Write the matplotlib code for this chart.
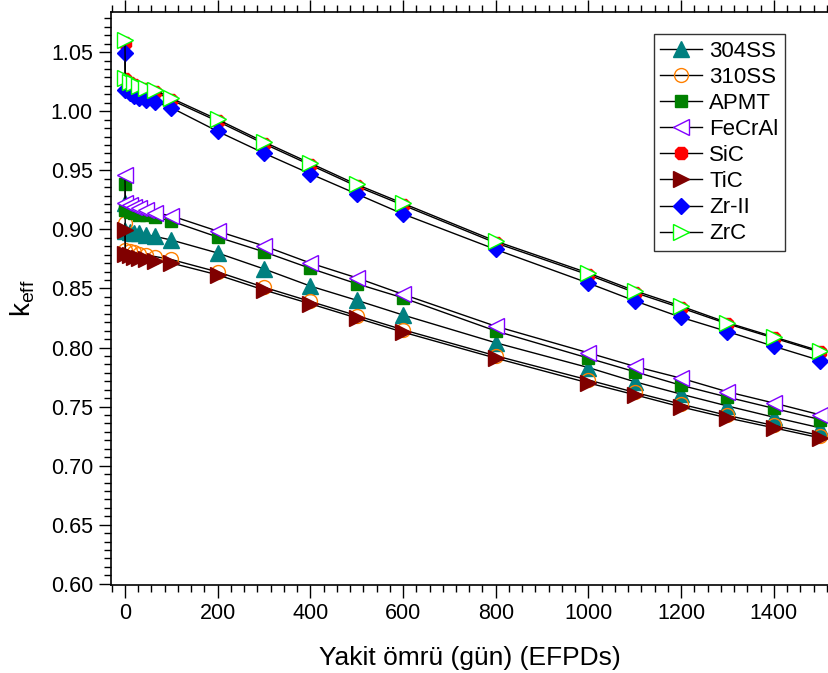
import numpy as np
import matplotlib
matplotlib.use('Agg')
import matplotlib.pyplot as plt
from matplotlib.ticker import MultipleLocator, AutoMinorLocator

# burnup steps (EFPD)
days = [0, 1, 10, 20, 30, 45, 65, 100, 200, 300, 400, 500, 600, 800,
        1000, 1100, 1200, 1300, 1400, 1500]

# keff for each cladding material
k_304ss = [0.922, 0.8985, 0.898, 0.897, 0.8965, 0.8955, 0.894, 0.891, 0.880, 0.8665,
           0.852, 0.840, 0.8275, 0.804, 0.783, 0.771, 0.7605, 0.7505, 0.741, 0.732]
k_310ss = [0.905, 0.8825, 0.8815, 0.8805, 0.8795, 0.878, 0.877, 0.8745, 0.864, 0.851,
           0.839, 0.827, 0.815, 0.793, 0.7725, 0.762, 0.752, 0.7425, 0.734, 0.7255]
k_apmt = [0.938, 0.9165, 0.915, 0.9135, 0.9125, 0.912, 0.9105, 0.907, 0.8935, 0.881,
          0.867, 0.854, 0.842, 0.814, 0.791, 0.7795, 0.768, 0.758, 0.7485, 0.739]
k_fecral = [0.946, 0.922, 0.9205, 0.919, 0.918, 0.9165, 0.914, 0.9115, 0.8985, 0.886,
            0.8715, 0.859, 0.845, 0.818, 0.7955, 0.784, 0.774, 0.7625, 0.753, 0.743]
k_sic = [1.058, 1.027, 1.0235, 1.022, 1.020, 1.0185, 1.0165, 1.0095, 0.9915, 0.9725,
         0.9545, 0.9365, 0.9205, 0.8885, 0.8615, 0.8465, 0.8335, 0.820, 0.808, 0.796]
k_tic = [0.8995, 0.879, 0.878, 0.877, 0.876, 0.875, 0.8735, 0.8715, 0.8615, 0.8487,
         0.837, 0.825, 0.813, 0.791, 0.770, 0.760, 0.7497, 0.7404, 0.732, 0.7235]
k_zr2 = [1.049, 1.018, 1.0155, 1.013, 1.011, 1.0095, 1.008, 1.003, 0.983, 0.9645,
         0.947, 0.930, 0.913, 0.883, 0.8545, 0.8395, 0.8255, 0.8135, 0.801, 0.789]
k_zrc = [1.060, 1.028, 1.025, 1.0235, 1.0215, 1.020, 1.018, 1.011, 0.993, 0.974,
         0.956, 0.938, 0.922, 0.890, 0.863, 0.848, 0.835, 0.821, 0.809, 0.797]

labels = ['304SS', '310SS', 'APMT', 'FeCrAl', 'SiC', 'TiC', 'Zr-II', 'ZrC']


def main():
    plt.rcParams['font.family'] = ['Liberation Sans', 'DejaVu Sans']
    plt.rcParams['mathtext.default'] = 'regular'

    fig = plt.figure(figsize=(8.29, 6.73), dpi=100)
    ax = fig.add_axes([0.1339, 0.1308, 0.8661, 0.8514])

    series = [k_304ss, k_310ss, k_apmt, k_fecral, k_sic, k_tic, k_zr2, k_zrc]
    # marker, face, edge, size
    styles = [
        ('^', '#008080', '#008080', 11),
        ('o', 'none', '#FF8000', 10),
        ('s', '#008000', '#008000', 8),
        ('<', 'white', '#8000FF', 11),
        ('8', '#FF0000', '#FF0000', 10),
        ('>', '#800000', '#800000', 11),
        ('D', '#0000FF', '#0000FF', 8.5),
        ('>', 'white', '#00FF00', 11),
    ]

    for vals, lab, (m, fc, ec, ms) in zip(series, labels, styles):
        ax.plot(days, vals, color='black', lw=1.0, marker=m, ms=ms,
                mfc=fc, mec=ec, mew=1.0, label=lab)

    ax.set_xlim(-30, 1519)
    ax.set_ylim(0.599, 1.084)

    ax.xaxis.set_major_locator(MultipleLocator(200))
    ax.xaxis.set_minor_locator(AutoMinorLocator(7))
    ax.yaxis.set_major_locator(MultipleLocator(0.05))
    ax.yaxis.set_minor_locator(MultipleLocator(0.05 / 7))
    ax.yaxis.set_major_formatter(matplotlib.ticker.FormatStrFormatter('%.2f'))

    ax.tick_params(which='both', direction='out', top=True, right=False,
                   labelsize=15.5, width=1.0, colors='black')
    ax.tick_params(which='major', length=9, pad=4)
    ax.tick_params(which='minor', length=5)
    ax.spines['right'].set_visible(False)
    for s in ['left', 'bottom', 'top']:
        ax.spines[s].set_linewidth(1.2)

    ax.set_xlabel('Yakit ömrü (gün) (EFPDs)', fontsize=19, labelpad=16)
    ax.set_ylabel('k$_{eff}$', fontsize=20, labelpad=10)

    leg = ax.legend(loc='upper right', bbox_to_anchor=(0.9387, 0.9616),
                    borderaxespad=0, fancybox=False, frameon=True,
                    edgecolor='black', fontsize=16, handlelength=1.9,
                    handletextpad=0.3, labelspacing=0.23, borderpad=0.3)
    leg.get_frame().set_linewidth(1.0)

    fig.savefig('out.png', dpi=100)


if __name__ == "__main__":
    main()
